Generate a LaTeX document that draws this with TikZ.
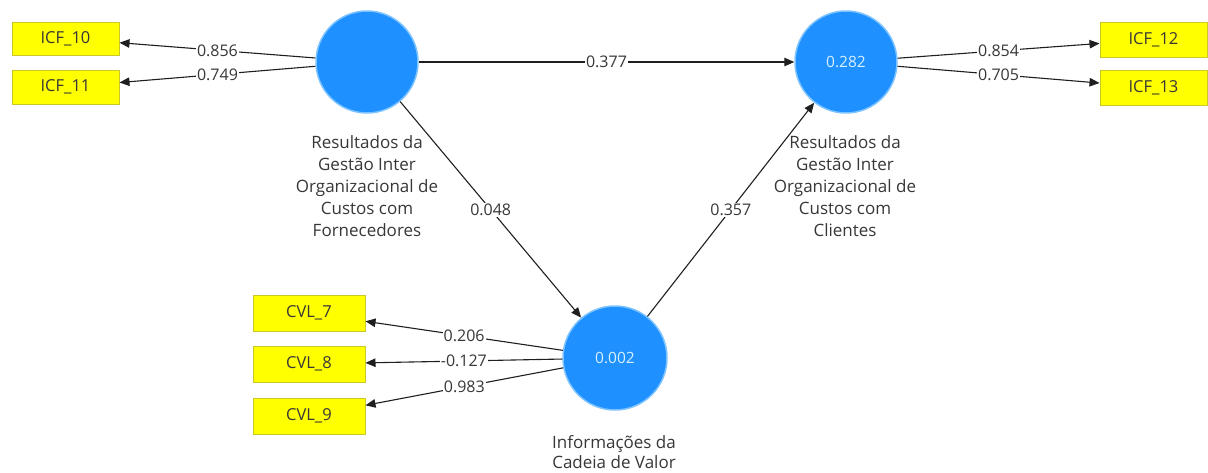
\documentclass[tikz,border=0pt]{standalone}
\usepackage{fontspec}
\setmainfont{Open Sans}
\usetikzlibrary{arrows.meta}
\definecolor{lvblue}{RGB}{30,144,255}
\definecolor{lvrim}{RGB}{125,195,255}
\definecolor{mvyellow}{RGB}{255,255,0}
\definecolor{mvrim}{RGB}{200,200,40}
\definecolor{inktext}{RGB}{55,55,55}
\definecolor{rsq}{RGB}{215,240,255}
\begin{document}
\begin{tikzpicture}[x=1pt,y=-1pt,
  latent/.style={circle,fill=lvblue,draw=lvrim,line width=1.5pt,minimum size=102pt,inner sep=0pt,
    text=rsq,font=\fontsize{15.5}{18}\selectfont},
  manifest/.style={rectangle,fill=mvyellow,draw=mvrim,line width=1pt,minimum width=107pt,
    minimum height=34pt,inner sep=0pt,text=inktext,font=\fontsize{16.5}{18}\selectfont},
  caption/.style={align=center,text=inktext,font=\fontsize{17}{22}\selectfont},
  path/.style={draw=black!88,line width=1.1pt,-{Triangle[length=10pt,width=8.5pt]}},
  coef/.style={fill=white,inner sep=1pt,text=inktext,font=\fontsize{16}{18}\selectfont}
]
\useasboundingbox (0,0) rectangle (1208,472);

% latent variables
\node[latent] (forn) at (367,62) {};
\node[latent] (cli) at (846,62) {0.282};
\node[latent,minimum size=104pt] (cad) at (615,358) {0.002};

% latent variable names
\node[caption] (fornlbl) at (367,186) {Resultados da\\Gestão Inter\\Organizacional de\\Custos com\\Fornecedores};
\node[caption] (clilbl) at (845,186) {Resultados da\\Gestão Inter\\Organizacional de\\Custos com\\Clientes};
\node[caption,font=\fontsize{17}{20.5}\selectfont] (cadlbl) at (614,452) {Informações da\\Cadeia de Valor};

% indicators
\node[manifest,minimum height=33pt] (icf10) at (65.5,38.5) {ICF\_10};
\node[manifest] (icf11) at (65.5,87) {ICF\_11};
\node[manifest,minimum height=35pt] (icf12) at (1153.5,39.5) {ICF\_12};
\node[manifest,minimum height=35pt] (icf13) at (1153.5,87.5) {ICF\_13};
\node[manifest,minimum width=112pt,minimum height=36pt] (cvl7) at (309,313) {CVL\_7};
\node[manifest,minimum width=112pt,minimum height=36pt] (cvl8) at (309,364) {CVL\_8};
\node[manifest,minimum width=112pt,minimum height=36pt] (cvl9) at (309,416) {CVL\_9};

% outer loadings
\draw[path] (forn) -- node[coef] {0.856} (icf10);
\draw[path] (forn) -- node[coef] {0.749} (icf11);
\draw[path] (cli) -- node[coef] {0.854} (icf12);
\draw[path] (cli) -- node[coef] {0.705} (icf13);
\draw[path] (cad) -- node[coef] {0.206} (cvl7);
\draw[path] (cad) -- node[coef] {-0.127} (cvl8);
\draw[path] (cad) -- node[coef] {0.983} (cvl9);

% structural paths
\draw[path] (forn) -- node[coef] {0.377} (cli);
\draw[path] (forn) -- node[coef] {0.048} (cad);
\draw[path] (cad) -- node[coef] {0.357} (cli);
\end{tikzpicture}
\end{document}
